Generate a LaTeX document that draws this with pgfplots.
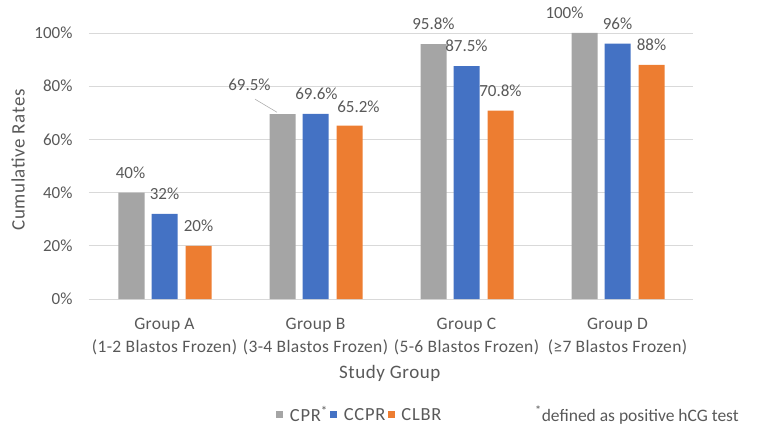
\documentclass[border=0pt]{standalone}
\usepackage{pgfplots}
\pgfplotsset{compat=1.18}
\usepackage{pgfplotstable}
\usepackage{fontspec}
\setmainfont{Carlito}
\definecolor{cgray}{HTML}{A5A5A5}
\definecolor{cblue}{HTML}{4472C4}
\definecolor{corange}{HTML}{ED7D31}
\definecolor{ctext}{HTML}{595959}
\definecolor{cgrid}{HTML}{D9D9D9}
\pgfplotstableread{
x y label dx dy
0 40 40 -1 0
1 69.5 69.5 -33 9
2 95.8 95.8 0 0
3 100 100 -20 0
}\tabCPR
\pgfplotstableread{
x y label dx dy
0 32 32 0 0
1 69.6 69.6 1 0
2 87.5 87.5 0 0
3 96 96 0 0
}\tabCCPR
\pgfplotstableread{
x y label dx dy
0 20 20 0 0
1 65.2 65.2 9 -1
2 70.8 70.8 0 0
3 88 88 0 0
}\tabCLBR
\pgfplotsset{
  barlabels/.style={
    point meta=explicit symbolic,
    nodes near coords={\pgfplotspointmeta\%},
    visualization depends on={\thisrow{dx} \as \dx},
    visualization depends on={\thisrow{dy} \as \dy},
    every node near coord/.append style={font=\fontsize{17}{19}\selectfont, text=ctext, anchor=center, xshift=\dx pt, yshift=20pt+\dy pt},
  }
}
\begin{document}
\begin{tikzpicture}
\useasboundingbox (-89pt,-145pt) rectangle (676pt,299pt);
\begin{axis}[
  at={(0,0)}, anchor=south west,
  scale only axis, width=604pt, height=266pt,
  xmin=-0.5, xmax=3.5, ymin=0, ymax=100,
  ybar, bar width=26pt,
  axis x line*=bottom,
  axis y line*=left,
  y axis line style={draw=none},
  x axis line style={cgrid, line width=0.8pt, -},
  ymajorgrids, grid style={cgrid, line width=0.8pt},
  ytick={0,20,40,60,80,100},
  yticklabel={\pgfmathprintnumber{\tick}\%},
  xtick={0,1,2,3},
  xticklabels={{Group A\\(1-2 Blastos Frozen)},{Group B\\(3-4 Blastos Frozen)},{Group C\\(5-6 Blastos Frozen)},{Group D\\(≥7 Blastos Frozen)}},
  major tick length=0pt,
  tick style={draw=none},
  /pgf/number format/assume math mode=true,
  yticklabel style={font=\fontsize{17}{23}\selectfont, text=ctext, xshift=-13pt},
  xticklabel style={font=\fontsize{17.5}{23}\selectfont\addfontfeature{LetterSpace=2}, text=ctext, align=center, yshift=-16pt},
  xlabel={Study Group},
  ylabel={Cumulative Rates},
  label style={font=\fontsize{19}{21}\selectfont\addfontfeature{LetterSpace=3}, text=ctext},
  xlabel style={at={(axis description cs:0.498,0)}, anchor=center, yshift=-74pt},
  ylabel style={at={(axis description cs:0,0.5)}, anchor=center, yshift=71pt, xshift=6pt},
  clip=false,
  legend style={at={(0.449,-0.436)}, anchor=center, draw=none, fill=none, legend columns=3, font=\fontsize{18.5}{20}\selectfont\addfontfeature{LetterSpace=4}, text=ctext, nodes={inner xsep=2.5pt}, /tikz/every odd column/.append style={column sep=4pt}},
  legend image code/.code={\path[#1,draw=none] (0pt,-3.5pt) rectangle (7pt,3.5pt);},
]
\addplot[fill=cgray, draw=none, bar shift=-33pt, barlabels] table[x=x, y=y, meta=label] {\tabCPR};
\addlegendentry{CPR\textsuperscript{*}}
\addplot[fill=cblue, draw=none, bar shift=0pt, barlabels] table[x=x, y=y, meta=label] {\tabCCPR};
\addlegendentry{CCPR}
\addplot[fill=corange, draw=none, bar shift=34pt, barlabels] table[x=x, y=y, meta=label] {\tabCLBR};
\addlegendentry{CLBR}
\addplot[sharp plot, no markers, color=cgray!90, line width=0.6pt, forget plot] coordinates {(0.6,75.1) (0.745,70.2)};
\end{axis}
\node[anchor=west, text=ctext, font=\fontsize{17.5}{19}\selectfont, inner sep=0pt] at (446pt,-116pt) {\textsuperscript{*}defined as positive hCG test};
\end{tikzpicture}
\end{document}
